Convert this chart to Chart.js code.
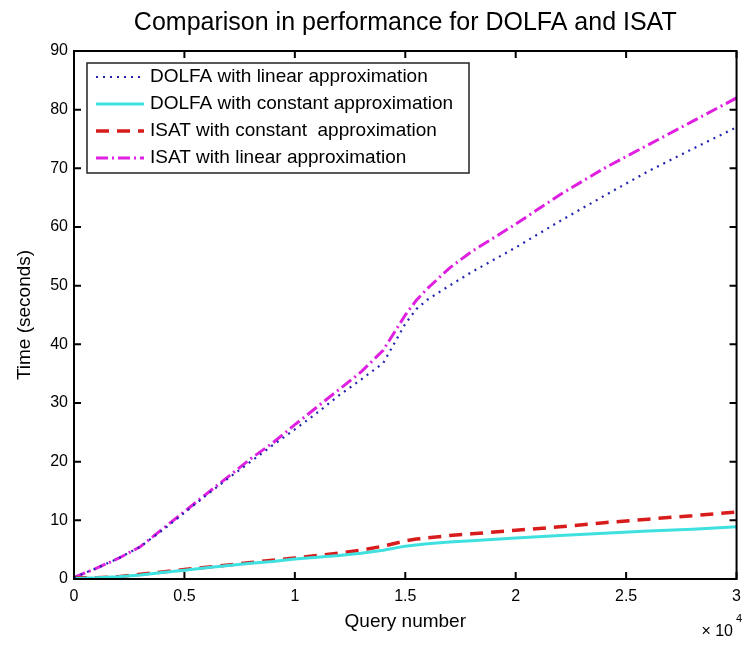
<!DOCTYPE html>
<html lang="en">
<head>
    <meta charset="UTF-8">
    <title>Comparison in performance for DOLFA and ISAT</title>
    <script src="https://cdn.jsdelivr.net/npm/chart.js"></script>
    <style>
        body {
            margin: 0;
            background: #fff;
        }
        canvas {
            display: block;
        }
    </style>
</head>
<body>

    <canvas id="perfChart" width="749" height="645"></canvas>

    <script>
        // query number (x axis) shared by all curves
        const queries = [0, 1000, 2000, 3000, 4000, 5000, 6000, 7000, 8000, 9000, 10000,
                         11000, 12000, 13000, 14000, 15000, 15500, 16000, 17000, 18000,
                         20000, 22000, 24000, 26000, 28000, 30000];

        // cumulative time in seconds
        const dolfaLinear = [0.3, 1.8, 3.5, 5.5, 8.3, 11.3, 14.3, 17.2, 20.0, 22.8, 25.5,
                             28.3, 31.3, 34.0, 36.8, 43.5, 46.0, 47.6, 50.0, 52.3,
                             56.5, 61.0, 65.3, 69.5, 73.3, 77.0];
        const dolfaConstant = [0.1, 0.2, 0.4, 0.7, 1.1, 1.5, 1.9, 2.3, 2.7, 3.0, 3.4,
                               3.7, 4.0, 4.4, 4.9, 5.6, 5.8, 6.0, 6.3, 6.5,
                               7.0, 7.4, 7.8, 8.2, 8.5, 8.9];
        const isatConstant = [0.2, 0.2, 0.4, 0.8, 1.2, 1.6, 2.0, 2.4, 2.8, 3.2, 3.6,
                              4.0, 4.4, 4.9, 5.6, 6.5, 6.8, 7.0, 7.4, 7.7,
                              8.3, 8.9, 9.6, 10.2, 10.8, 11.4];
        const isatLinear = [0.3, 1.8, 3.5, 5.5, 8.5, 11.5, 14.5, 17.5, 20.5, 23.2, 26.3,
                            29.3, 32.3, 35.3, 39.0, 45.0, 47.5, 49.5, 53.0, 55.8,
                            60.5, 65.5, 70.0, 74.0, 78.0, 82.0];

        const xTicks = [0, 5000, 10000, 15000, 20000, 25000, 30000];
        const yTicks = [0, 10, 20, 30, 40, 50, 60, 70, 80, 90];

        const FONT = '"Liberation Sans", Arial, sans-serif';
        const toPoints = values => values.map((v, i) => ({ x: queries[i], y: v }));

        // MATLAB-style box with inward ticks, title, legend and exponent label
        const matlabFrame = {
            id: 'matlabFrame',
            afterDatasetsDraw(chart) {
                const { ctx, chartArea: a, scales } = chart;
                ctx.save();
                ctx.strokeStyle = '#000';
                ctx.lineWidth = 2;
                ctx.strokeRect(a.left, a.top, a.right - a.left, a.bottom - a.top);
                ctx.beginPath();
                xTicks.forEach(v => {
                    const px = scales.x.getPixelForValue(v);
                    ctx.moveTo(px, a.bottom); ctx.lineTo(px, a.bottom - 7);
                    ctx.moveTo(px, a.top); ctx.lineTo(px, a.top + 7);
                });
                yTicks.forEach(v => {
                    const py = scales.y.getPixelForValue(v);
                    ctx.moveTo(a.left, py); ctx.lineTo(a.left + 7, py);
                    ctx.moveTo(a.right, py); ctx.lineTo(a.right - 7, py);
                });
                ctx.stroke();

                // title centred over the axes
                ctx.fillStyle = '#000';
                ctx.font = '25px ' + FONT;
                ctx.textAlign = 'center';
                ctx.textBaseline = 'middle';
                ctx.fillText('Comparison in performance for DOLFA and ISAT', (a.left + a.right) / 2, 23);

                // x10^4 exponent
                ctx.font = '16px ' + FONT;
                ctx.textAlign = 'right';
                ctx.fillText('\u00d7 10', 733, 632);
                ctx.font = '11px ' + FONT;
                ctx.textAlign = 'left';
                ctx.fillText('4', 736, 619);

                // legend box
                const box = { left: 87, top: 63, right: 469, bottom: 173 };
                ctx.fillStyle = '#fff';
                ctx.fillRect(box.left, box.top, box.right - box.left, box.bottom - box.top);
                ctx.strokeStyle = '#222';
                ctx.lineWidth = 1.5;
                ctx.strokeRect(box.left, box.top, box.right - box.left, box.bottom - box.top);
                ctx.font = '19px ' + FONT;
                ctx.textBaseline = 'middle';
                chart.data.datasets.forEach((ds, i) => {
                    const y = 77 + i * 27;
                    ctx.save();
                    ctx.strokeStyle = ds.borderColor;
                    ctx.lineWidth = ds.borderWidth;
                    ctx.setLineDash(ds.borderDash || []);
                    ctx.beginPath();
                    ctx.moveTo(96, y);
                    ctx.lineTo(144, y);
                    ctx.stroke();
                    ctx.restore();
                    ctx.fillStyle = '#000';
                    ctx.fillText(ds.label, 150, y);
                });
                ctx.restore();
            }
        };

        const ctx1 = document.getElementById('perfChart').getContext('2d');
        const perfChart = new Chart(ctx1, {
            type: 'line',
            data: {
                datasets: [
                    {
                        label: 'DOLFA with linear approximation',
                        data: toPoints(dolfaLinear),
                        borderColor: '#2323b0',
                        borderWidth: 2.2,
                        borderDash: [2, 5]
                    },
                    {
                        label: 'DOLFA with constant approximation',
                        data: toPoints(dolfaConstant),
                        borderColor: '#3fe0e0',
                        borderWidth: 3
                    },
                    {
                        label: 'ISAT with constant  approximation',
                        data: toPoints(isatConstant),
                        borderColor: '#d81c1c',
                        borderWidth: 3.5,
                        borderDash: [13, 8]
                    },
                    {
                        label: 'ISAT with linear approximation',
                        data: toPoints(isatLinear),
                        borderColor: '#e020e0',
                        borderWidth: 3,
                        borderDash: [12, 4, 2, 4]
                    }
                ]
            },
            options: {
                responsive: false,
                animation: false,
                devicePixelRatio: 1,
                elements: {
                    point: { radius: 0 },
                    line: { tension: 0 }
                },
                layout: {
                    padding: { top: 51, right: 7, left: 0, bottom: 0 }
                },
                plugins: {
                    legend: { display: false },
                    tooltip: { enabled: false }
                },
                scales: {
                    x: {
                        type: 'linear',
                        min: 0,
                        max: 30000,
                        afterFit: s => { s.height = 66; },
                        afterBuildTicks: s => { s.ticks = xTicks.map(v => ({ value: v })); },
                        grid: { display: false, drawTicks: false },
                        border: { display: false },
                        ticks: {
                            color: '#000',
                            padding: 8,
                            maxRotation: 0,
                            font: { family: FONT, size: 16 },
                            callback: v => String(v / 10000)
                        },
                        title: {
                            display: true,
                            text: 'Query number',
                            color: '#000',
                            font: { family: FONT, size: 19 },
                            padding: { top: 0, bottom: 12 }
                        }
                    },
                    y: {
                        min: 0,
                        max: 90,
                        afterFit: s => { s.width = 74; },
                        afterBuildTicks: s => { s.ticks = yTicks.map(v => ({ value: v })); },
                        grid: { display: false, drawTicks: false },
                        border: { display: false },
                        ticks: {
                            color: '#000',
                            padding: 6,
                            font: { family: FONT, size: 16 }
                        },
                        title: {
                            display: true,
                            text: 'Time (seconds)',
                            color: '#000',
                            font: { family: FONT, size: 19 },
                            padding: { top: 13, bottom: 0 }
                        }
                    }
                }
            },
            plugins: [matlabFrame]
        });
    </script>
</body>
</html>
